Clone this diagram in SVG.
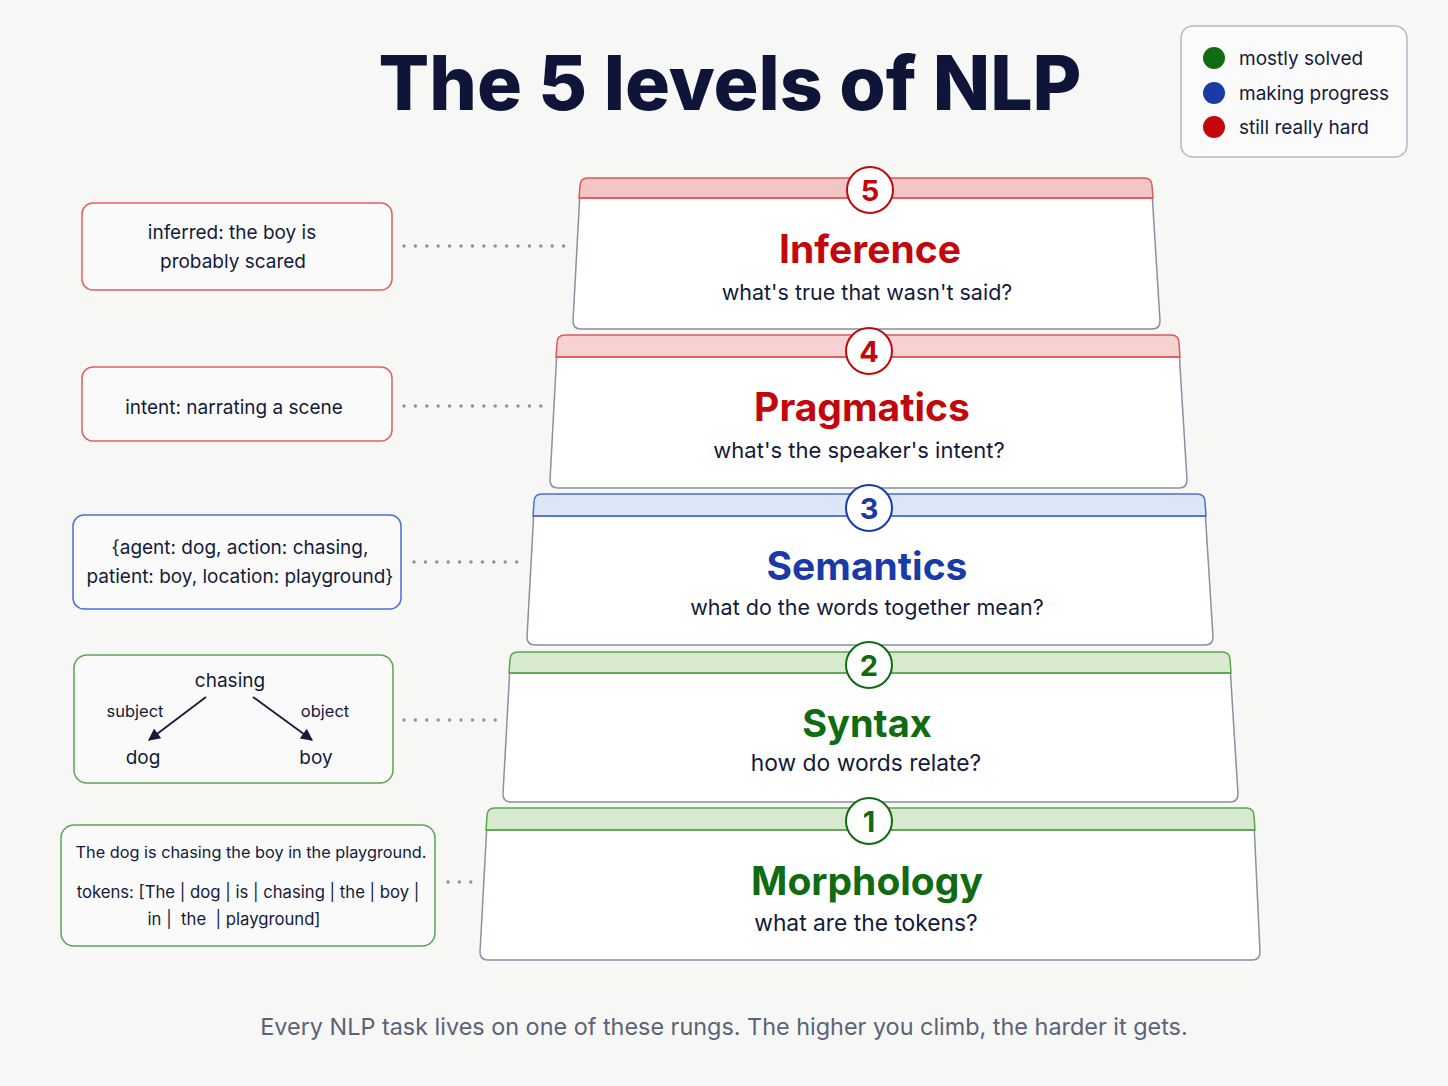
<svg xmlns="http://www.w3.org/2000/svg" width="1448" height="1086" viewBox="0 0 1448 1086">
<defs>
<style>
text{font-family:Inter,"Open Sans","Liberation Sans",sans-serif;fill:#141a3a}
.title{font-size:75px;font-weight:800;fill:#0e1538}
.lvl{font-size:39px;font-weight:700;text-anchor:middle}
.sub{font-size:22px;text-anchor:middle}
.num{font-size:29px;font-weight:700;text-anchor:middle}
.note{font-size:19px;text-anchor:middle}
.small{font-size:16.5px;text-anchor:middle}
.leg{font-size:19px}
.body{fill:#ffffff;stroke:#8b90a3;stroke-width:1.5}
.box{fill:#fafafa;stroke-width:1.5}
.dots{stroke:#8d93a5;stroke-width:3.5;stroke-linecap:round;stroke-dasharray:0 11.4;fill:none}
.red{fill:#c2080c}.blue{fill:#1a3aa8}.green{fill:#106b12}
</style>
<marker id="ah" viewBox="0 0 10 10" refX="9" refY="5" markerWidth="13" markerHeight="12" orient="auto-start-reverse" markerUnits="userSpaceOnUse">
<path d="M0,0 L10,5 L0,10 z" fill="#141a3a"/>
</marker>
</defs>
<rect width="1448" height="1086" fill="#f7f7f6"/>

<text class="title" x="730" y="110" text-anchor="middle">The 5 levels of NLP</text>

<g id="legend">
<rect x="1181" y="26" width="226" height="131" rx="12" fill="#fbfbfb" stroke="#b5b9c6" stroke-width="1.5"/>
<circle cx="1214" cy="58" r="11" fill="#106b12"/>
<circle cx="1214" cy="93" r="11" fill="#1a3aa8"/>
<circle cx="1214" cy="127" r="11" fill="#c2080c"/>
<text class="leg" x="1239" y="65">mostly solved</text>
<text class="leg" x="1239" y="100">making progress</text>
<text class="leg" x="1239" y="134">still really hard</text>
</g>

<!-- Tier 5 -->
<g id="tier5">
<path class="body" d="M580,192 L573,321 Q573,329 581,329 L1152,329 Q1160,329 1160,321 L1152,192 Z"/>
<path d="M579,198 L580,186 Q580,178 588,178 L1144,178 Q1152,178 1152,186 L1153,198 Z" fill="#f3c5c5" stroke="#de5858" stroke-width="1.5"/>
<line x1="579" y1="198" x2="1153" y2="198" stroke="#de5858" stroke-width="1.5"/>
<circle cx="870" cy="190" r="23" fill="#fff" stroke="#c2080c" stroke-width="2"/>
<text class="num red" x="870" y="201">5</text>
<text class="lvl red" x="870" y="263">Inference</text>
<text class="sub" x="867" y="300" style="font-size:21.5px">what's true that wasn't said?</text>
</g>

<!-- Tier 4 -->
<g id="tier4">
<path class="body" d="M557,350 L550,480 Q550,488 558,488 L1179,488 Q1187,488 1187,480 L1179,350 Z"/>
<path d="M556,357 L557,343 Q557,335 565,335 L1171,335 Q1179,335 1179,343 L1180,357 Z" fill="#f6d2d2" stroke="#de5858" stroke-width="1.5"/>
<line x1="556" y1="357" x2="1180" y2="357" stroke="#de5858" stroke-width="1.5"/>
<circle cx="869" cy="351" r="23" fill="#fff" stroke="#c2080c" stroke-width="2"/>
<text class="num red" x="869" y="362">4</text>
<text class="lvl red" x="862" y="421">Pragmatics</text>
<text class="sub" x="859" y="458">what's the speaker's intent?</text>
</g>

<!-- Tier 3 -->
<g id="tier3">
<path class="body" d="M534,509 L527,637 Q527,645 535,645 L1205,645 Q1213,645 1213,637 L1205,509 Z"/>
<path d="M533,516 L534,502 Q534,494 542,494 L1197,494 Q1205,494 1205,502 L1206,516 Z" fill="#dce6f6" stroke="#4a70d2" stroke-width="1.5"/>
<line x1="533" y1="516" x2="1206" y2="516" stroke="#4a70d2" stroke-width="1.5"/>
<circle cx="869" cy="508" r="23" fill="#fff" stroke="#1a3aa8" stroke-width="2"/>
<text class="num blue" x="869" y="519">3</text>
<text class="lvl blue" x="867" y="580">Semantics</text>
<text class="sub" x="867" y="615" style="font-size:21.5px">what do the words together mean?</text>
</g>

<!-- Tier 2 -->
<g id="tier2">
<path class="body" d="M510,666 L503,794 Q503,802 511,802 L1230,802 Q1238,802 1238,794 L1230,666 Z"/>
<path d="M509,673 L510,660 Q510,652 518,652 L1222,652 Q1230,652 1230,660 L1231,673 Z" fill="#d7eacf" stroke="#5aa64e" stroke-width="1.5"/>
<line x1="509" y1="673" x2="1231" y2="673" stroke="#5aa64e" stroke-width="1.5"/>
<circle cx="869" cy="665" r="23" fill="#fff" stroke="#106b12" stroke-width="2"/>
<text class="num green" x="869" y="676">2</text>
<text class="lvl green" x="867" y="737" style="font-size:38px">Syntax</text>
<text class="sub" x="866" y="771" style="font-size:22.8px">how do words relate?</text>
</g>

<!-- Tier 1 -->
<g id="tier1">
<path class="body" d="M487,823 L480,952 Q480,960 488,960 L1252,960 Q1260,960 1260,952 L1254,823 Z"/>
<path d="M486,830 L487,816 Q487,808 495,808 L1246,808 Q1254,808 1254,816 L1255,830 Z" fill="#d7eacf" stroke="#5aa64e" stroke-width="1.5"/>
<line x1="486" y1="830" x2="1255" y2="830" stroke="#5aa64e" stroke-width="1.5"/>
<circle cx="869" cy="821" r="23" fill="#fff" stroke="#106b12" stroke-width="2"/>
<text class="num green" x="869" y="832">1</text>
<text class="lvl green" x="867" y="895">Morphology</text>
<text class="sub" x="866" y="931" style="font-size:22.8px">what are the tokens?</text>
</g>

<!-- Example boxes -->
<g id="ex5">
<rect class="box" x="82" y="203" width="310" height="87" rx="11" stroke="#e06060"/>
<text class="note" x="232" y="239">inferred: the boy is</text>
<text class="note" x="233" y="268">probably scared</text>
</g>
<g id="ex4">
<rect class="box" x="82" y="367" width="310" height="74" rx="11" stroke="#e06060"/>
<text class="note" x="234" y="414">intent: narrating a scene</text>
</g>
<g id="ex3">
<rect class="box" x="73" y="515" width="328" height="94" rx="11" stroke="#4a70d2"/>
<text class="note" x="240" y="554">{agent: dog, action: chasing,</text>
<text class="note" x="240" y="583">patient: boy, location: playground}</text>
</g>
<g id="ex2">
<rect class="box" x="74" y="655" width="319" height="128" rx="13" stroke="#5aa64e"/>
<text class="note" x="230" y="687">chasing</text>
<text class="small" x="135" y="717">subject</text>
<text class="small" x="325" y="717">object</text>
<text class="note" x="143" y="764">dog</text>
<text class="note" x="316" y="764">boy</text>
<line x1="206" y1="697" x2="149" y2="740" stroke="#141a3a" stroke-width="1.8" marker-end="url(#ah)"/>
<line x1="253" y1="697" x2="312" y2="740" stroke="#141a3a" stroke-width="1.8" marker-end="url(#ah)"/>
</g>
<g id="ex1">
<rect class="box" x="61" y="825" width="374" height="121" rx="13" stroke="#5aa64e"/>
<text class="small" x="251" y="858" style="font-size:16.3px">The dog is chasing the boy in the playground.</text>
<text class="note" x="248" y="898" style="font-size:16.7px">tokens: [The | dog | is | chasing | the | boy |</text>
<text class="note" x="234" y="925" style="font-size:16.7px;white-space:pre" xml:space="preserve">in |  the  | playground]</text>
</g>

<g id="connectors">
<line class="dots" x1="404" y1="246" x2="568" y2="246"/>
<line class="dots" x1="404" y1="406" x2="546" y2="406"/>
<line class="dots" x1="414" y1="562" x2="524" y2="562"/>
<line class="dots" x1="404" y1="720" x2="500" y2="720"/>
<line class="dots" x1="448" y1="882" x2="475" y2="882"/>
</g>

<text x="724" y="1035" text-anchor="middle" style="font-size:23.4px;fill:#5b6378">Every NLP task lives on one of these rungs. The higher you climb, the harder it gets.</text>
</svg>
